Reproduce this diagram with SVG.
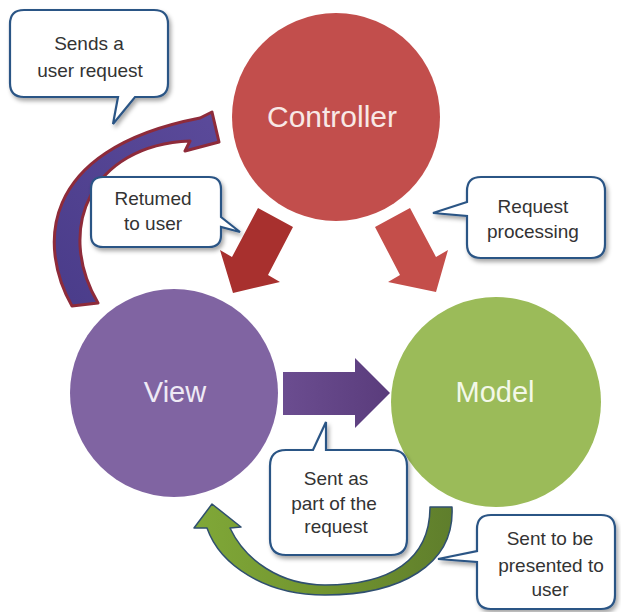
<svg xmlns="http://www.w3.org/2000/svg" width="621" height="612" viewBox="0 0 621 612">
<defs>
<style>
.node-label{font-family:"Liberation Sans",Arial,sans-serif;text-anchor:middle}
.note{fill:#ffffff;stroke:#2c5585;stroke-width:2.2;filter:url(#sh)}
.note-text{font-family:"Liberation Sans",Arial,sans-serif;font-size:19px;fill:#333333;text-anchor:middle}
</style>
<filter id="sh" x="-20%" y="-20%" width="140%" height="150%">
<feDropShadow dx="2" dy="3" stdDeviation="2" flood-color="#000000" flood-opacity="0.35"/>
</filter>
<linearGradient id="gPurpleCurve" x1="0" y1="1" x2="1" y2="0">
<stop offset="0" stop-color="#4a3c8a"/>
<stop offset="1" stop-color="#5b4a9a"/>
</linearGradient>
<linearGradient id="gPurpleArrow" x1="0" y1="0" x2="1" y2="0">
<stop offset="0" stop-color="#6b4d90"/>
<stop offset="1" stop-color="#5a3c7c"/>
</linearGradient>
<linearGradient id="gGreen" x1="1" y1="0" x2="0" y2="0">
<stop offset="0" stop-color="#5f7e2c"/>
<stop offset="0.5" stop-color="#72952f"/>
<stop offset="1" stop-color="#80a838"/>
</linearGradient>
</defs>
<rect width="621" height="612" fill="#ffffff"/>

<g id="connectors">
<path id="view-to-controller" d="M 72 306 C 40 250, 35 150, 200 118 L 212 112 L 219 142 L 185 151 L 190 141 C 90 145, 55 230, 98 303 Z" fill="url(#gPurpleCurve)" stroke="#8e2b3a" stroke-width="3" stroke-linejoin="round"/>
<polygon id="controller-to-view" points="258,208 293,227 268,275 280,282 233,293 220,250 232,257" fill="#a8302e"/>
<polygon id="controller-to-model" points="410,208 375,227 400,275 388,282 436,292 448,250 436,257" fill="#c44e4a"/>
<polygon id="view-to-model" points="283,372 355,372 355,358 390,393 355,428 355,415 283,415" fill="url(#gPurpleArrow)"/>
<path id="model-to-view" d="M 452 507 C 455 565, 400 595, 325 595 C 265 595, 220 565, 207 528 L 194 528 L 212 504 L 241 527 L 230 528 C 245 560, 280 585, 325 585 C 390 585, 430 560, 430 507 Z" fill="url(#gGreen)" stroke="#2f4f6f" stroke-width="1.5" stroke-linejoin="round"/>
</g>

<g id="controller">
<circle cx="336" cy="117" r="104" fill="#c24e4c"/>
<text class="node-label" x="332" y="127" font-size="30" fill="#f8e8e6">Controller</text>
</g>
<g id="view">
<circle cx="174" cy="393" r="104" fill="#8064a2"/>
<text class="node-label" x="175" y="402" font-size="29" fill="#efeaf5">View</text>
</g>
<g id="model">
<circle cx="496" cy="402" r="105" fill="#9bbb59"/>
<text class="node-label" x="495" y="402" font-size="29" fill="#f3f8e8">Model</text>
</g>

<g id="note-sends">
<path class="note" d="M 24 10 H 154 Q 168 10 168 24 V 83 Q 168 97 154 97 H 135 L 113 124 L 118 97 H 24 Q 10 97 10 83 V 24 Q 10 10 24 10 Z"/>
<text class="note-text" x="89" y="50">Sends a</text>
<text class="note-text" x="90" y="77">user request</text>
</g>
<g id="note-returned">
<path class="note" d="M 103 177 H 209 Q 221 177 221 189 V 217 L 240 232 L 221 227 V 235 Q 221 247 209 247 H 103 Q 91 247 91 235 V 189 Q 91 177 103 177 Z"/>
<text class="note-text" x="153" y="205">Retumed</text>
<text class="note-text" x="153" y="230">to user</text>
</g>
<g id="note-request">
<path class="note" d="M 481 177 H 591 Q 605 177 605 191 V 244 Q 605 258 591 258 H 481 Q 467 258 467 244 V 216 L 433 213 L 467 202 V 191 Q 467 177 481 177 Z"/>
<text class="note-text" x="533" y="213">Request</text>
<text class="note-text" x="533" y="238">processing</text>
</g>
<g id="note-sent-as">
<path class="note" d="M 286 450 H 313 L 326 422 L 326 450 H 391 Q 407 450 407 466 V 539 Q 407 555 391 555 H 286 Q 270 555 270 539 V 466 Q 270 450 286 450 Z"/>
<text class="note-text" x="336" y="485">Sent as</text>
<text class="note-text" x="334" y="510">part of the</text>
<text class="note-text" x="336" y="533">request</text>
</g>
<g id="note-sent-to">
<path class="note" d="M 491 515 H 601 Q 615 515 615 529 V 595 Q 615 609 601 609 H 491 Q 477 609 477 595 V 562 L 438 559 L 477 551 V 529 Q 477 515 491 515 Z"/>
<text class="note-text" x="550" y="545">Sent to be</text>
<text class="note-text" x="551" y="572">presented to</text>
<text class="note-text" x="550" y="596">user</text>
</g>
</svg>
